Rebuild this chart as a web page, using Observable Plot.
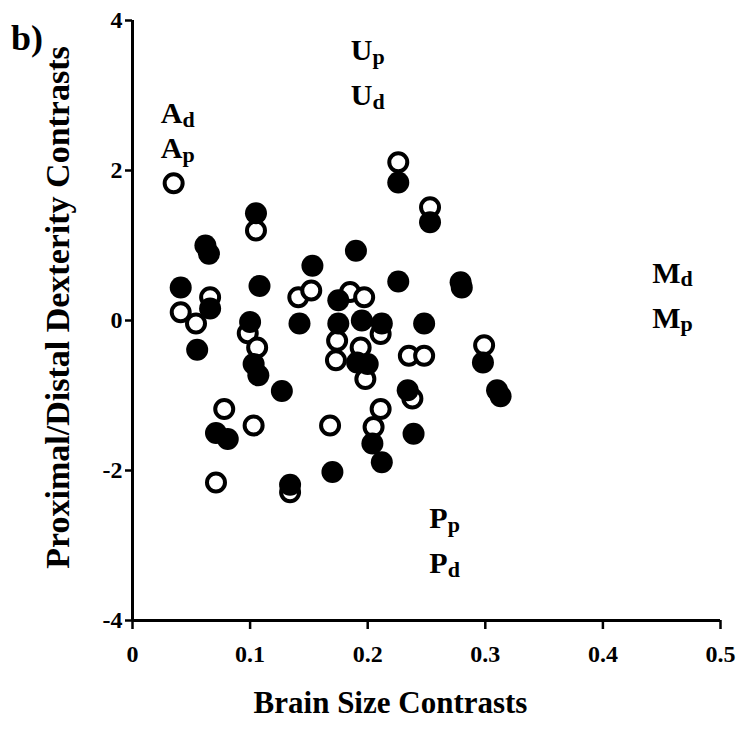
<!DOCTYPE html>
<html>
<head>
<meta charset="utf-8">
<script src="https://cdn.jsdelivr.net/npm/d3@7"></script>
<script src="https://cdn.jsdelivr.net/npm/@observablehq/plot@0.6"></script>
<style>
  html, body { margin: 0; padding: 0; background: #fff; }
  #wrap { position: relative; width: 751px; height: 745px; }
  #panel { position: absolute; left: 11px; top: 20px; font: bold 36px "Liberation Serif", serif; color: #000; line-height: 1; }
</style>
</head>
<body>
<div id="wrap"><div id="panel">b)</div></div>
<script>
// Open circles (proximal-type markers)
const openX = [0.035, 0.105, 0.141, 0.152, 0.066, 0.041, 0.054, 0.098, 0.106, 0.078, 0.103, 0.071, 0.134, 0.168,
               0.226, 0.253, 0.185, 0.197, 0.174, 0.211, 0.194, 0.235, 0.248, 0.173, 0.198, 0.238, 0.299, 0.211, 0.205];
const openY = [1.83, 1.20, 0.31, 0.40, 0.31, 0.11, -0.04, -0.17, -0.36, -1.18, -1.40, -2.16, -2.29, -1.40,
               2.11, 1.51, 0.38, 0.31, -0.27, -0.18, -0.36, -0.47, -0.47, -0.53, -0.78, -1.04, -0.33, -1.18, -1.42];

// Filled circles
const filledX = [0.226, 0.253, 0.105, 0.062, 0.065, 0.153, 0.190, 0.041, 0.108, 0.066, 0.226, 0.279, 0.280,
                 0.142, 0.100, 0.175, 0.175, 0.195, 0.212, 0.248, 0.055, 0.103, 0.107, 0.127, 0.191, 0.200,
                 0.298, 0.234, 0.310, 0.313, 0.071, 0.081, 0.204, 0.212, 0.239, 0.170, 0.134];
const filledY = [1.84, 1.31, 1.43, 1.00, 0.89, 0.73, 0.93, 0.44, 0.46, 0.16, 0.52, 0.51, 0.44,
                 -0.04, -0.02, 0.27, -0.04, 0.00, -0.04, -0.04, -0.39, -0.58, -0.73, -0.94, -0.56, -0.58,
                 -0.56, -0.93, -0.93, -1.01, -1.50, -1.58, -1.64, -1.89, -1.51, -2.02, -2.19];

// Annotation labels: letter, subscript, position
const labelMain = ["A", "A", "U", "U", "M", "M", "P", "P"];
const labelSub  = ["d", "p", "p", "d", "d", "p", "p", "d"];
const labelX    = [0.0425, 0.0425, 0.204, 0.204, 0.466, 0.466, 0.268, 0.268];
const labelY    = [2.76, 2.29, 3.60, 3.00, 0.63, 0.03, -2.64, -3.24];

// Axis ticks
const xTicks = [0, 0.1, 0.2, 0.3, 0.4, 0.5];
const xTickLabels = ["0", "0.1", "0.2", "0.3", "0.4", "0.5"];
const yTicks = [-4, -2, 0, 2, 4];
const yTickLabels = ["-4", "-2", "0", "2", "4"];

const xTitle = "Brain Size Contrasts";
const yTitle = "Proximal/Distal Dexterity Contrasts";

const openPts = openX.map((x, i) => ({x, y: openY[i]}));
const filledPts = filledX.map((x, i) => ({x, y: filledY[i]}));
const labels = labelMain.map((m, i) => ({m, s: labelSub[i], x: labelX[i], y: labelY[i]}));

const serif = "Liberation Serif, Times New Roman, serif";

const chart = Plot.plot({
  width: 751,
  height: 745,
  marginLeft: 132,
  marginRight: 31,
  marginTop: 20,
  marginBottom: 125,
  style: {fontFamily: serif, background: "white", color: "black"},
  x: {domain: [0, 0.5]},
  y: {domain: [-4, 4]},
  marks: [
    Plot.axisX({ticks: xTicks, tickFormat: d => xTickLabels[xTicks.indexOf(d)], tickSize: 9, tickPadding: 15,
                strokeWidth: 2.5, fontSize: 24, fontWeight: "bold", label: null}),
    Plot.axisY({ticks: yTicks, tickFormat: d => yTickLabels[yTicks.indexOf(d)], tickSize: 7, tickPadding: 3,
                strokeWidth: 2.5, fontSize: 24, fontWeight: "bold", label: null}),
    Plot.ruleX([0], {y1: -4, y2: 4, strokeWidth: 3}),
    Plot.ruleY([-4], {x1: 0, x2: 0.5, strokeWidth: 3}),
    Plot.dot(openPts, {x: "x", y: "y", r: 9, fill: "white", stroke: "black", strokeWidth: 4}),
    Plot.dot(filledPts, {x: "x", y: "y", r: 11, fill: "black", stroke: "none"}),
    Plot.text(labels, {x: "x", y: "y", text: "m", textAnchor: "end", fontSize: 30, fontWeight: "bold", fill: "black"}),
    Plot.text(labels, {x: "x", y: "y", text: "s", textAnchor: "start", dy: 6, fontSize: 22, fontWeight: "bold", fill: "black"}),
    Plot.text([xTitle], {frameAnchor: "bottom", textAnchor: "middle", dy: 92, dx: -36, fontSize: 31, fontWeight: "bold", fill: "black"}),
    Plot.text([yTitle], {frameAnchor: "left", textAnchor: "middle", rotate: -90, dx: -74, dy: -13, fontSize: 34, fontWeight: "bold", fill: "black"})
  ]
});
document.getElementById("wrap").prepend(chart);
</script>
</body>
</html>
